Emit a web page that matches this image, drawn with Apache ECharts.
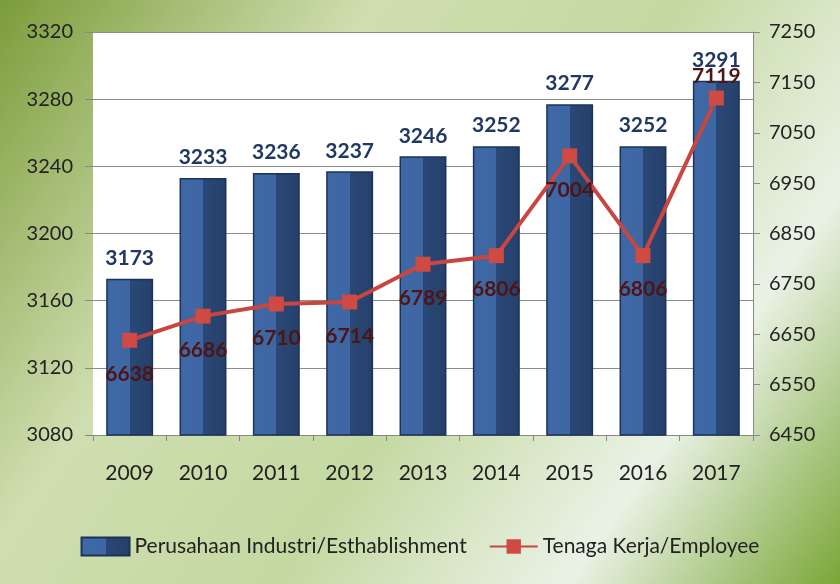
<!DOCTYPE html>
<html>
<head>
<meta charset="utf-8">
<title>Perusahaan Industri dan Tenaga Kerja</title>
<script src="https://cdn.jsdelivr.net/npm/echarts@6/dist/echarts.min.js"></script>
<style>
html, body { margin: 0; padding: 0; }
#main { width: 840px; height: 584px; }
</style>
</head>
<body>
<div id="main"></div>
<script>
var years = ['2009', '2010', '2011', '2012', '2013', '2014', '2015', '2016', '2017'];
var perusahaan = [3173, 3233, 3236, 3237, 3246, 3252, 3277, 3252, 3291];
var tenagaKerja = [6638, 6686, 6710, 6714, 6789, 6806, 7004, 6806, 7119];
var seriesNames = ['Perusahaan Industri/Esthablishment', 'Tenaga Kerja/Employee'];

var chart = echarts.init(document.getElementById('main'));
var font = 'Lato, "Open Sans", sans-serif';

// plain numbers, no thousands separator
function plain(v) { return String(v); }

// bar fill: light left face, dark right face
var barFill = new echarts.graphic.LinearGradient(0, 0, 1, 0, [
    {offset: 0, color: '#3f68a6'},
    {offset: 0.5, color: '#3d66a3'},
    {offset: 0.5, color: '#2a4877'},
    {offset: 1, color: '#25406a'}
]);

var option = {
    backgroundColor: new echarts.graphic.LinearGradient(0, 0, 1, 1, [
        {offset: 0, color: '#7c9c3a'},
        {offset: 0.3, color: '#cfdeb0'},
        {offset: 0.55, color: '#c4d9a2'},
        {offset: 0.78, color: '#eaf2e6'},
        {offset: 1, color: '#7aa636'}
    ]),
    textStyle: {fontFamily: font},
    grid: {
        left: 93, right: 87, top: 32, bottom: 149,
        show: true, backgroundColor: '#ffffff', borderWidth: 0
    },
    legend: {
        bottom: 22,
        itemGap: 22,
        itemWidth: 48,
        itemHeight: 18,
        textStyle: {fontSize: 21, color: '#222', fontFamily: font},
        data: [
            {name: seriesNames[0], icon: 'rect'},
            {name: seriesNames[1]}
        ]
    },
    xAxis: {
        type: 'category',
        data: years,
        axisLine: {lineStyle: {color: '#888'}},
        axisTick: {show: true, length: 6, lineStyle: {color: '#888'}},
        axisLabel: {fontSize: 21, color: '#222', margin: 28}
    },
    yAxis: [{
        type: 'value',
        min: 3080, max: 3320, interval: 40,
        axisLine: {show: false},
        axisTick: {show: true, length: 8, lineStyle: {color: '#888'}},
        axisLabel: {fontSize: 20, color: '#222', margin: 20, formatter: plain},
        splitLine: {lineStyle: {color: '#8c8c8c', width: 1}}
    }, {
        type: 'value',
        min: 6450, max: 7250, interval: 100,
        axisLine: {show: true, lineStyle: {color: '#888'}},
        axisTick: {show: true, length: 7, lineStyle: {color: '#888'}},
        axisLabel: {fontSize: 20, color: '#222', margin: 16, formatter: plain},
        splitLine: {show: false}
    }],
    series: [{
        name: seriesNames[0],
        type: 'bar',
        yAxisIndex: 0,
        data: perusahaan,
        barWidth: '64%',
        itemStyle: {color: barFill, borderColor: '#1c3358', borderWidth: 1.5},
        label: {
            show: true, position: 'top', distance: 10,
            fontSize: 21, fontWeight: 'bold', color: '#1f3864'
        },
        z: 2
    }, {
        name: seriesNames[1],
        type: 'line',
        yAxisIndex: 1,
        symbol: 'rect',
        symbolSize: 15,
        lineStyle: {color: '#c8463f', width: 4},
        itemStyle: {color: '#cf4a43'},
        label: {
            show: true, position: 'bottom', distance: 16,
            fontSize: 21, fontWeight: 'bold', color: '#4f1414'
        },
        z: 3
    }]
};

// last point keeps its label above the marker
option.series[1].data = tenagaKerja.map(function (v, i) {
    if (i === tenagaKerja.length - 1) {
        return {value: v, label: {position: 'top', distance: 4}};
    }
    return v;
});

chart.setOption(option);
</script>
</body>
</html>
